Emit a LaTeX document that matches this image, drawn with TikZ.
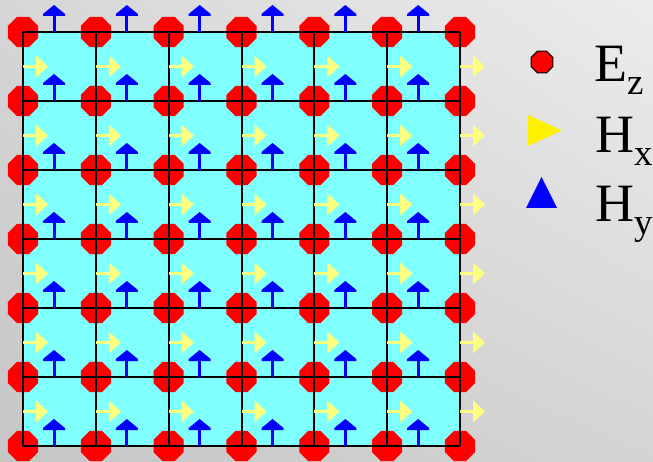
\documentclass[tikz,border=0pt]{standalone}
\usepackage{fontspec}
\setmainfont{Liberation Serif}
\usetikzlibrary{shapes.geometric,shadings}
\definecolor{cyanfill}{RGB}{128,255,255}
\definecolor{hxcol}{RGB}{255,255,128}
\definecolor{bgTL}{RGB}{214,214,214}
\definecolor{bgTR}{RGB}{236,236,236}
\definecolor{bgBL}{RGB}{198,198,198}
\definecolor{bgBR}{RGB}{212,212,212}
\definecolor{ezred}{RGB}{255,0,0}
\tikzset{
  octo/.style={regular polygon, regular polygon sides=8, fill=ezred, draw=none, inner sep=0pt, minimum size=32.5pt},
  gridline/.style={draw=black, line width=2pt},
  hxarrow/.style={fill=hxcol},
  hyarrow/.style={fill=blue},
  legtext/.style={anchor=base west, inner sep=0pt, font=\fontsize{54}{54}\selectfont},
}
\newcommand{\subtxt}[1]{\lower13pt\hbox{\fontsize{37}{37}\selectfont #1}}
\begin{document}
\begin{tikzpicture}[x=1pt,y=-1pt]
\useasboundingbox (0,0) rectangle (653,462);
\shade[shading=bilinear interpolation, upper left=bgTL, upper right=bgTR, lower left=bgBL, lower right=bgBR] (0,0) rectangle (653,462);
% cell fill
\fill[cyanfill] (23,32) rectangle (460,446);
% Ez nodes
\foreach \i in {0,...,6} {
  \foreach \j in {0,...,6} {
    \pgfmathsetmacro{\px}{23+\i*72.833}
    \pgfmathsetmacro{\py}{32+\j*69}
    \node[octo] (e-\i-\j) at (\px,\py) {};
  }
}
% grid lines
\foreach \i in {0,...,6} {
  \draw[gridline] (e-\i-0.center) -- (e-\i-6.center);
  \draw[gridline] (e-0-\i.center) -- (e-6-\i.center);
}
% Hx arrows
\foreach \i in {0,...,6} {
  \foreach \j in {0,...,5} {
    \pgfmathsetmacro{\px}{23+\i*72.833}
    \pgfmathsetmacro{\py}{32+(\j+0.5)*69}
    \fill[hxarrow] (\px,\py-1.5) rectangle (\px+15,\py+1.5);
    \fill[hxarrow] (\px+13,\py-11) -- (\px+25,\py) -- (\px+13,\py+11) -- cycle;
  }
}
% Hy arrows
\foreach \i in {0,...,5} {
  \foreach \j in {0,...,6} {
    \pgfmathsetmacro{\px}{23+\i*72.833+31}
    \pgfmathsetmacro{\py}{32+\j*69}
    \fill[hyarrow] (\px-1.5,\py) rectangle (\px+1.5,\py-17);
    \fill[hyarrow] (\px-11,\py-16) -- (\px+11,\py-16) -- (\px+11,\py-18) -- (\px,\py-27) -- (\px-11,\py-18) -- cycle;
  }
}
% legend
\node[octo, minimum size=23.5pt, draw=black, line width=1pt] (lez) at (542,62) {};
\fill[yellow] (528,115) -- (562,130.5) -- (528,146) -- cycle;
\fill[blue] (526,208) -- (557,208) -- (541.5,177) -- cycle;
\node[legtext] (tez) at (594,82) {E\subtxt{z}};
\node[legtext] (thx) at (595,153) {H\subtxt{x}};
\node[legtext] (thy) at (595,222) {H\subtxt{y}};
\end{tikzpicture}
\end{document}
